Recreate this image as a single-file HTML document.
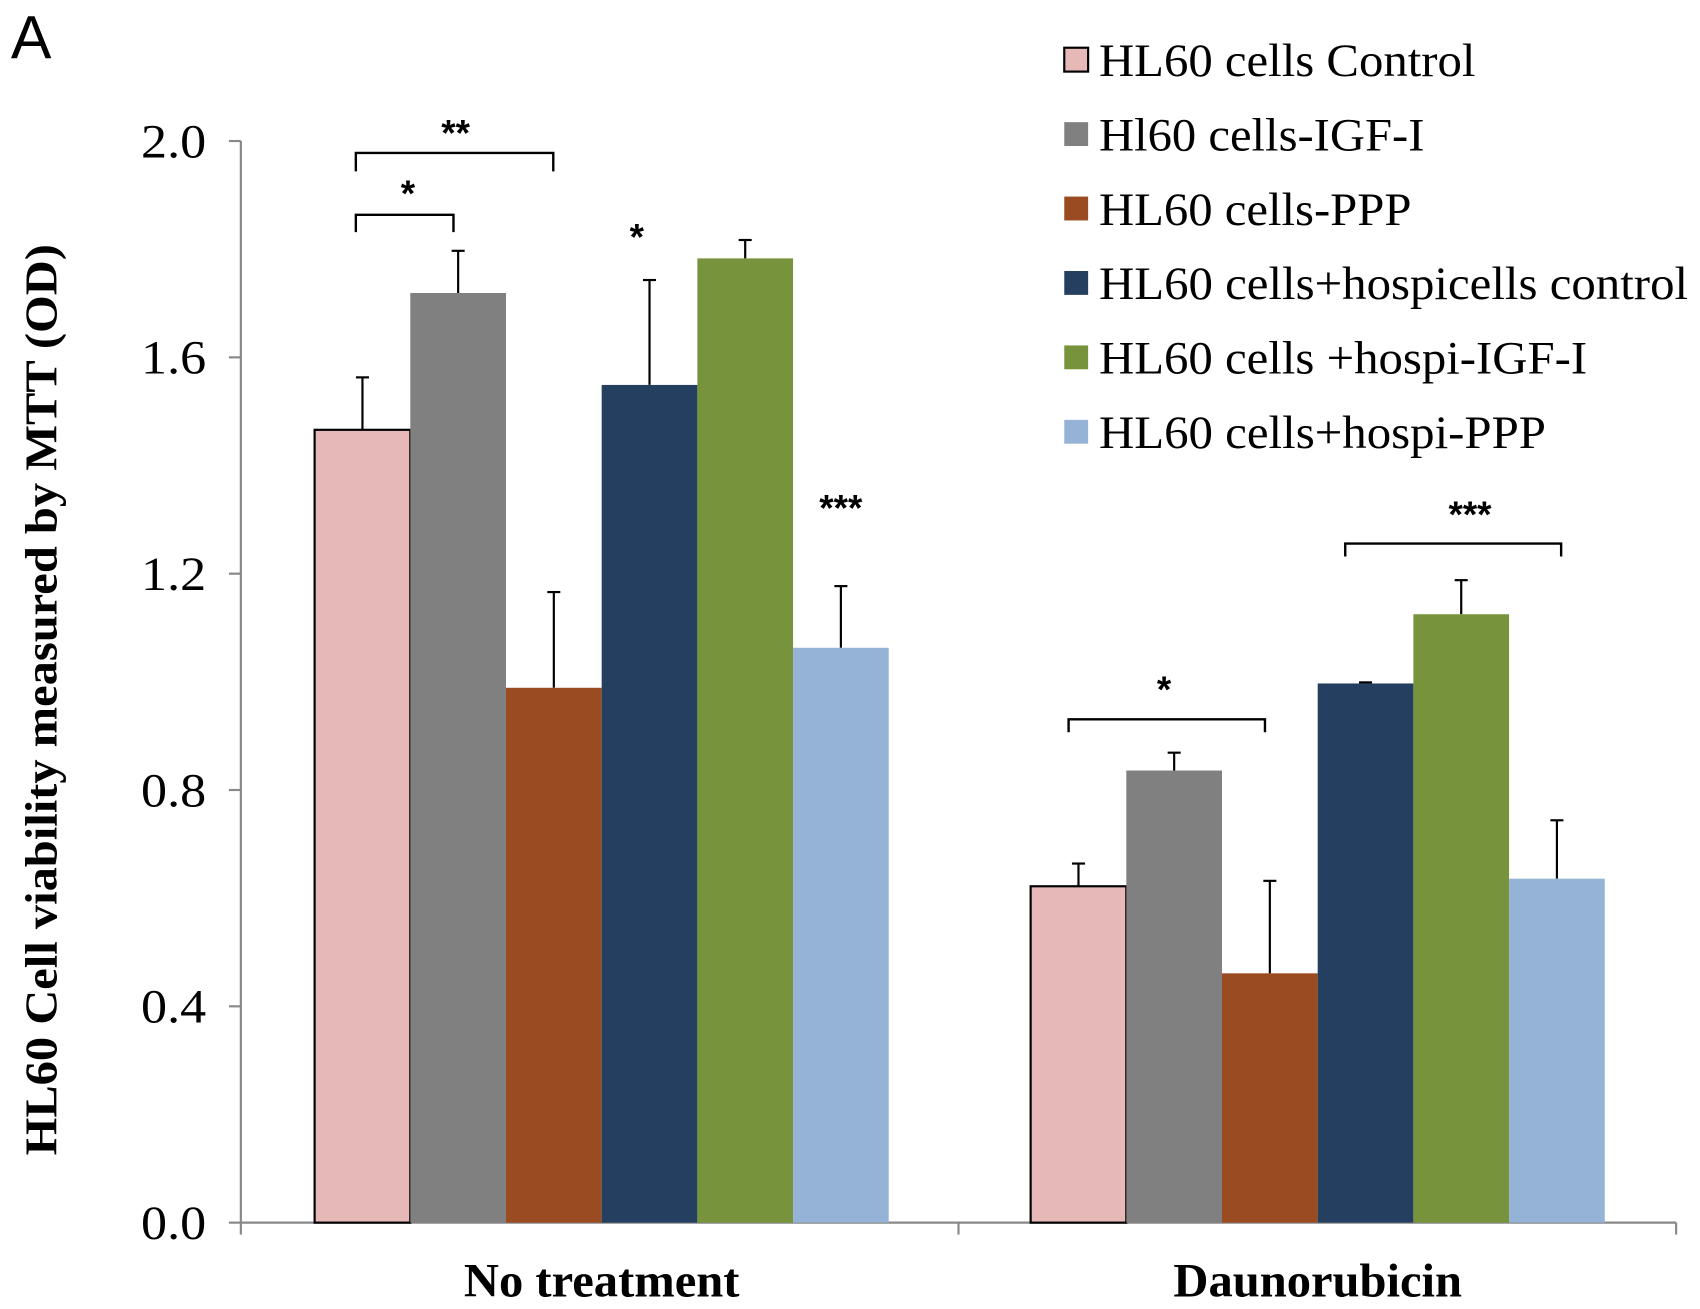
<!DOCTYPE html>
<html><head><meta charset="utf-8"><style>
html,body{margin:0;padding:0;background:#fff;}
svg{display:block;}
text{font-family:"Liberation Serif",serif;fill:#000;}
</style></head><body>
<svg id="chart" width="1700" height="1309" viewBox="0 0 1567 1206.6" preserveAspectRatio="none" xmlns="http://www.w3.org/2000/svg">
<text x="10" y="54" font-size="56" style="font-family:'Liberation Sans',sans-serif">A</text>
<text transform="translate(52,645) rotate(-90)" text-anchor="middle" font-size="42" font-weight="bold" textLength="840" lengthAdjust="spacingAndGlyphs">HL60 Cell viability measured by MTT (OD)</text>
<g id="axes"></g>
<g id="bars"></g>
<g id="annot"></g>
<g id="legend"></g>
</svg>
<script>
const categories = ["No treatment", "Daunorubicin"];
const categoryWidths = [254, 266];
const seriesNames = ["HL60 cells Control","Hl60 cells-IGF-I","HL60 cells-PPP","HL60 cells+hospicells control","HL60 cells +hospi-IGF-I","HL60 cells+hospi-PPP"];
const legendWidths = [347, 300, 288, 543, 450, 412];
const seriesColors = ["#e6b8b7","#808080","#9a4b22","#243f60","#77933c","#95b3d7"];
const valuesNoTreatment = [1.466,1.719,0.989,1.549,1.783,1.063];
const errNoTreatment = [0.097,0.078,0.177,0.194,0.034,0.114];
const valuesDauno = [0.622,0.836,0.461,0.997,1.125,0.636];
const errDauno = [0.042,0.033,0.171,0.002,0.063,0.108];
const yTicks = [0.0,0.4,0.8,1.2,1.6,2.0];
const yTickLabels = ["0.0","0.4","0.8","1.2","1.6","2.0"];

const NS="http://www.w3.org/2000/svg";
const X0=222, X1=1545, Y0=1127, Y2=130;
const y = v => Y0 - (v/2.0)*(Y0-Y2);
const groupStart = [290, 950];
const BW = 88.2;
const x = (g,s) => groupStart[g] + s*BW;
function mk(tag, attrs, parent){const e=document.createElementNS(NS,tag);for(const k in attrs)e.setAttribute(k,attrs[k]);parent.appendChild(e);return e;}
const axes=document.getElementById('axes'), bars=document.getElementById('bars'), annot=document.getElementById('annot'), legend=document.getElementById('legend');

let ax=mk('line',{x1:X0,y1:Y2,x2:X0,y2:Y0,stroke:'#888','stroke-width':2},axes);


yTicks.forEach((t,i)=>{
  let tk=mk('line',{x1:X0-11,y1:y(t),x2:X0,y2:y(t),stroke:'#888','stroke-width':2},axes);
  
  
  let tl=mk('text',{x:190,y:y(t)+15,'text-anchor':'end','font-size':44,textLength:60,lengthAdjust:'spacingAndGlyphs'},axes);
  tl.textContent=yTickLabels[i];
  
  
});
let xa=mk('line',{x1:X0,y1:Y0,x2:X1,y2:Y0,stroke:'#888','stroke-width':2},axes);


[X0,(X0+X1)/2,X1].forEach(px=>{
  let tk=mk('line',{x1:px,y1:Y0,x2:px,y2:Y0+11,stroke:'#888','stroke-width':2},axes);
  
  
});
categories.forEach((c,g)=>{
  let t=mk('text',{x:groupStart[g]+3*BW,y:1195,'text-anchor':'middle','font-size':44,'font-weight':'bold',textLength:categoryWidths[g],lengthAdjust:'spacingAndGlyphs'},axes);
  t.textContent=c;
  
  
});

[[valuesNoTreatment,errNoTreatment],[valuesDauno,errDauno]].forEach(([vals,errs],g)=>{
  vals.forEach((v,s)=>{
    const cx=x(g,s)+BW/2;
    let el=mk('line',{x1:cx,y1:y(v),x2:cx,y2:y(v+errs[s]),stroke:'#000','stroke-width':2},bars);
    
    
    let ec=mk('line',{x1:cx-6,y1:y(v+errs[s]),x2:cx+6,y2:y(v+errs[s]),stroke:'#000','stroke-width':2},bars);
    
    
  });
  vals.forEach((v,s)=>{
    const attrs={x:x(g,s),y:y(v),width:BW,height:Y0-y(v),fill:seriesColors[s]};
    if(s===0){attrs.stroke='#000';attrs['stroke-width']=2;}
    let r=mk('rect',attrs,bars);
    
    
  });
});

function bracket(x1,x2,yt,yb,label,lx,ly){
  let p=mk('path',{d:`M${x1},${yb} L${x1},${yt} L${x2},${yt} L${x2},${yb}`,fill:'none',stroke:'#000','stroke-width':2.2},annot);
  
  
  star(label,lx,ly);
}
function star(label,lx,ly){
  let t=mk('text',{x:lx,y:ly,'text-anchor':'middle','font-size':34,'font-weight':'bold',style:"font-family:'Liberation Sans',sans-serif"},annot);
  t.textContent=label;
  
  
}
bracket(328,510,141,158,'**',420,134);
bracket(328,418,198,214,'*',376,190);
star('*',587,230);
star('***',775,480);
bracket(985,1166,663,675,'*',1073,647);
bracket(1240,1439,501,513,'***',1355,486);

seriesNames.forEach((n,i)=>{
  const cy=55+i*68.6;
  let r=mk('rect',{x:981,y:cy-11,width:22,height:22,fill:seriesColors[i],stroke:i===0?'#000':'none','stroke-width':2},legend);
  
  
  let t=mk('text',{x:1013,y:cy+15,'font-size':43,textLength:legendWidths[i],lengthAdjust:'spacingAndGlyphs'},legend);
  t.textContent=n;
  
  
});
</script>
</body></html>
